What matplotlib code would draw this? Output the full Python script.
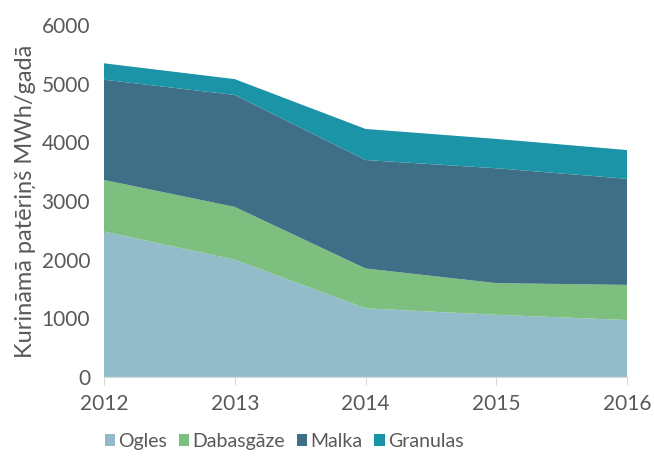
import matplotlib.pyplot as plt

years = [2012, 2013, 2014, 2015, 2016]
ogles = [2480, 2000, 1170, 1060, 970]
dabasgaze = [880, 900, 680, 540, 600]
malka = [1710, 1910, 1850, 1960, 1810]
granulas = [280, 270, 530, 500, 490]

labels = ['Ogles', 'Dabasgāze', 'Malka', 'Granulas']
colors = ['#93bccb', '#7dbf7e', '#3f6f86', '#1a94a6']

plt.rcParams['font.family'] = ['Lato', 'DejaVu Sans']
txt = '#595959'

fig = plt.figure(figsize=(6.54, 4.58), dpi=100)
ax = fig.add_axes([0.159, 0.177, 0.8, 0.768])
ax.stackplot(years, ogles, dabasgaze, malka, granulas, labels=labels, colors=colors)

ax.set_xlim(2012, 2016)
ax.set_ylim(0, 6000)
ax.set_xticks(years)
ax.set_yticks(range(0, 6001, 1000))
ax.tick_params(axis='y', length=0, labelsize=15, colors=txt, pad=10)
ax.tick_params(axis='x', length=6, color='#d9d9d9', labelsize=15, labelcolor=txt, pad=6)
for s in ['top', 'right', 'left']:
    ax.spines[s].set_visible(False)
ax.spines['bottom'].set_color('#d9d9d9')
ax.set_ylabel('Kurināmā patēriņš MWh/gadā', fontsize=17, color=txt, labelpad=4)

ax.legend(loc='center left', bbox_to_anchor=(0.148, 0.037), bbox_transform=fig.transFigure,
          ncol=4, frameon=False, fontsize=14, labelcolor=txt, handlelength=0.55,
          handleheight=0.55, handletextpad=0.15, columnspacing=0.6, borderaxespad=0)

fig.savefig('out.png', dpi=100)
